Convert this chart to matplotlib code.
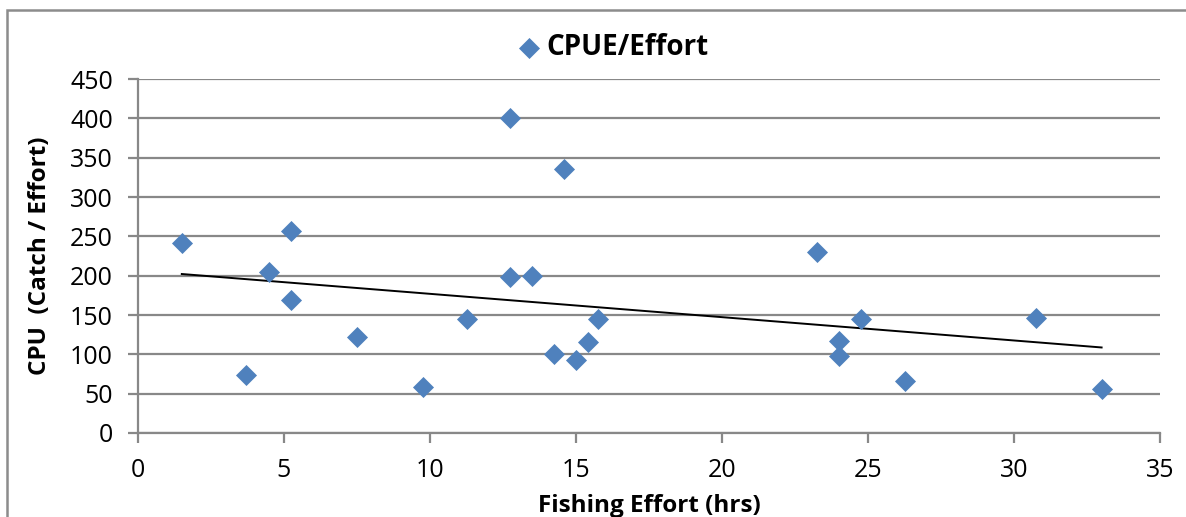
import numpy as np
import matplotlib
matplotlib.use('Agg')
import matplotlib.pyplot as plt
from matplotlib.patches import Rectangle

plt.rcParams['font.family'] = ['Open Sans', 'DejaVu Sans']

# fishing effort (hrs) and CPUE
effort = [1.5, 3.7, 4.5, 5.25, 5.25, 7.5, 9.75, 11.25, 12.75, 12.75, 13.5, 14.25,
          14.6, 15.0, 15.4, 15.75, 23.25, 24.0, 24.0, 24.75, 26.25, 30.75, 33.0]
cpue = [242, 74, 205, 257, 169, 122, 58, 145, 400, 198, 200, 100,
        335, 93, 116, 145, 230, 117, 98, 145, 66, 146, 56]
xticks = [0, 5, 10, 15, 20, 25, 30, 35]
yticks = [0, 50, 100, 150, 200, 250, 300, 350, 400, 450]

grid_col = '#888888'
marker_col = '#4F81BD'

fig = plt.figure(figsize=(11.86, 5.17), dpi=100)
ax = fig.add_axes([138/1186, 1 - 433/517, (1160-138)/1186, (433-79)/517])

# outer chart border (Excel style, cut off on the right/bottom)
fig.patches.append(Rectangle((7/1186, -0.1), 1.2, 1 - 10/517 + 0.1, transform=fig.transFigure,
                             fill=False, edgecolor='#8c8c8c', lw=1.8, zorder=0))

ax.scatter(effort, cpue, marker='D', s=115, color=marker_col, zorder=3,
           linewidths=0, label='CPUE/Effort')

# linear trendline
x = np.array(effort)
m, b = np.polyfit(x, np.array(cpue), 1)
xl = np.array([x.min(), x.max()])
ax.plot(xl, m * xl + b, color='black', lw=1.4, zorder=2)

ax.set_xlim(0, 35)
ax.set_ylim(0, 450)
ax.set_xticks(xticks)
ax.set_yticks(yticks)
ax.yaxis.grid(True, color=grid_col, lw=1.6)
ax.set_axisbelow(True)
for s in ['top', 'right']:
    ax.spines[s].set_visible(False)
for s in ['left', 'bottom']:
    ax.spines[s].set_color(grid_col)
    ax.spines[s].set_linewidth(1.6)
ax.tick_params(axis='both', direction='out', length=7, width=1.6, color=grid_col,
               labelsize=18)
ax.tick_params(axis='y', pad=11)
ax.tick_params(axis='x', pad=11)

ax.set_xlabel('Fishing Effort (hrs)', fontsize=17.5, fontweight='bold')
ax.set_ylabel('CPU  (Catch / Effort)', fontsize=17.5, fontweight='bold')
ax.xaxis.set_label_coords(0.5, -0.172)
ax.yaxis.set_label_coords(-0.084, 0.5)

ax.legend(loc='lower center', bbox_to_anchor=(0.465, 1.0), frameon=False,
          prop={'weight': 'bold', 'size': 20}, handlelength=0.8, handletextpad=0.25,
          markerscale=1.0, borderaxespad=0.2)

fig.savefig('out.png', dpi=100)
